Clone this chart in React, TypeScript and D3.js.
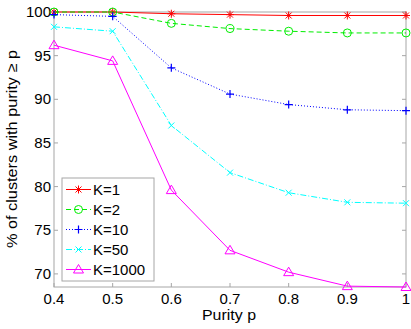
import * as d3 from 'd3';

const purity = [0.4, 0.5, 0.6, 0.7, 0.8, 0.9, 1];
const k1 = [100, 100, 99.8, 99.7, 99.6, 99.6, 99.6];
const k2 = [100, 100, 98.7, 98.1, 97.8, 97.6, 97.6];
const k10 = [99.7, 99.5, 93.6, 90.6, 89.4, 88.8, 88.7];
const k50 = [98.3, 97.8, 87.0, 81.6, 79.3, 78.2, 78.1];
const k1000 = [96.2, 94.4, 79.6, 72.7, 70.2, 68.6, 68.5];
const xTicks = [0.4, 0.5, 0.6, 0.7, 0.8, 0.9, 1];
const yTicks = [70, 75, 80, 85, 90, 95, 100];

const series = [
  { name: 'K=1', values: k1, color: '#ff0000', dash: '', marker: 'star' },
  { name: 'K=2', values: k2, color: '#00ee00', dash: '5,3', marker: 'circle' },
  { name: 'K=10', values: k10, color: '#0000ff', dash: '1,2', marker: 'plus' },
  { name: 'K=50', values: k50, color: '#00ffff', dash: '6,2,1,2', marker: 'x' },
  { name: 'K=1000', values: k1000, color: '#ff00ff', dash: '', marker: 'triangle' },
];

function Marker({ type, x, y, color }: { type: string; x: number; y: number; color: string }) {
  const r = 4;
  if (type === 'circle') return <circle cx={x} cy={y} r={r} fill="none" stroke={color} strokeWidth={1} />;
  if (type === 'plus')
    return <path d={`M${x - r},${y}H${x + r}M${x},${y - r}V${y + r}`} stroke={color} strokeWidth={1.2} />;
  if (type === 'x')
    return <path d={`M${x - 3},${y - 3}L${x + 3},${y + 3}M${x - 3},${y + 3}L${x + 3},${y - 3}`} stroke={color} strokeWidth={1} />;
  if (type === 'triangle')
    return <path d={`M${x},${y - 5}L${x + 5},${y + 3.5}L${x - 5},${y + 3.5}Z`} fill="none" stroke={color} strokeWidth={1} />;
  // star
  return (
    <path
      d={`M${x - r},${y}H${x + r}M${x},${y - r}V${y + r}M${x - 3},${y - 3}L${x + 3},${y + 3}M${x - 3},${y + 3}L${x + 3},${y - 3}`}
      stroke={color}
      strokeWidth={1}
    />
  );
}

export default function App() {
  const width = 411;
  const height = 329;
  const left = 54;
  const right = 406;
  const top = 12;
  const bottom = 287;

  const x = d3.scaleLinear().domain([0.4, 1]).range([left, right]);
  const y = d3.scaleLinear().domain([68.5, 100]).range([bottom, top]);
  const axisColor = '#a6a6a6';
  const font = "'Liberation Sans', Arial, sans-serif";

  const line = (vals: number[]) =>
    d3
      .line<number>()
      .x((_, i) => x(purity[i]))
      .y((d) => y(d))(vals) || '';

  const legX = 62;
  const legY = 178;
  const legW = 92;
  const legH = 103;

  return (
    <svg width={width} height={height} style={{ position: 'absolute', left: 0, top: 0, background: '#fff' }} fontFamily={font}>
      <rect x={0} y={0} width={width} height={height} fill="#fff" />
      {/* frame */}
      <rect x={left} y={top} width={right - left} height={bottom - top} fill="none" stroke={axisColor} strokeWidth={1} />
      {/* ticks */}
      {xTicks.map((t) => (
        <g key={'x' + t}>
          <line x1={x(t)} x2={x(t)} y1={bottom} y2={bottom - 4} stroke={axisColor} />
          <line x1={x(t)} x2={x(t)} y1={top} y2={top + 4} stroke={axisColor} />
          <text x={x(t)} y={304} textAnchor="middle" fontSize={15} fill="#000">
            {t === 1 ? '1' : t.toFixed(1)}
          </text>
        </g>
      ))}
      {yTicks.map((t) => (
        <g key={'y' + t}>
          <line x1={left} x2={left + 4} y1={y(t)} y2={y(t)} stroke={axisColor} />
          <line x1={right} x2={right - 4} y1={y(t)} y2={y(t)} stroke={axisColor} />
          <text x={51} y={y(t) + 5} textAnchor="end" fontSize={15} fill="#000">
            {t}
          </text>
        </g>
      ))}
      <text x={229} y={320} textAnchor="middle" fontSize={15} fill="#000" textLength={54} lengthAdjust="spacingAndGlyphs">
        Purity p
      </text>
      <text
        transform={`translate(17,149) rotate(-90)`}
        textAnchor="middle"
        fontSize={15}
        fill="#000"
        textLength={198}
        lengthAdjust="spacingAndGlyphs"
      >
        % of clusters with purity ≥ p
      </text>
      {/* series */}
      {series.map((s) => (
        <g key={s.name}>
          <path d={line(s.values)} fill="none" stroke={s.color} strokeWidth={1} strokeDasharray={s.dash} />
          {s.values.map((v, i) => (
            <Marker key={i} type={s.marker} x={x(purity[i])} y={y(v)} color={s.color} />
          ))}
        </g>
      ))}
      {/* legend */}
      <rect x={legX} y={legY} width={legW} height={legH} fill="#fff" stroke={axisColor} strokeWidth={1} />
      {series.map((s, i) => {
        const ly = 189.5 + i * 20;
        return (
          <g key={'l' + s.name}>
            <line x1={66} x2={91} y1={ly} y2={ly} stroke={s.color} strokeWidth={1} strokeDasharray={s.dash} />
            <Marker type={s.marker} x={78.5} y={ly} color={s.color} />
            <text x={93} y={ly + 5} fontSize={15} fill="#000">
              {s.name}
            </text>
          </g>
        );
      })}
    </svg>
  );
}
